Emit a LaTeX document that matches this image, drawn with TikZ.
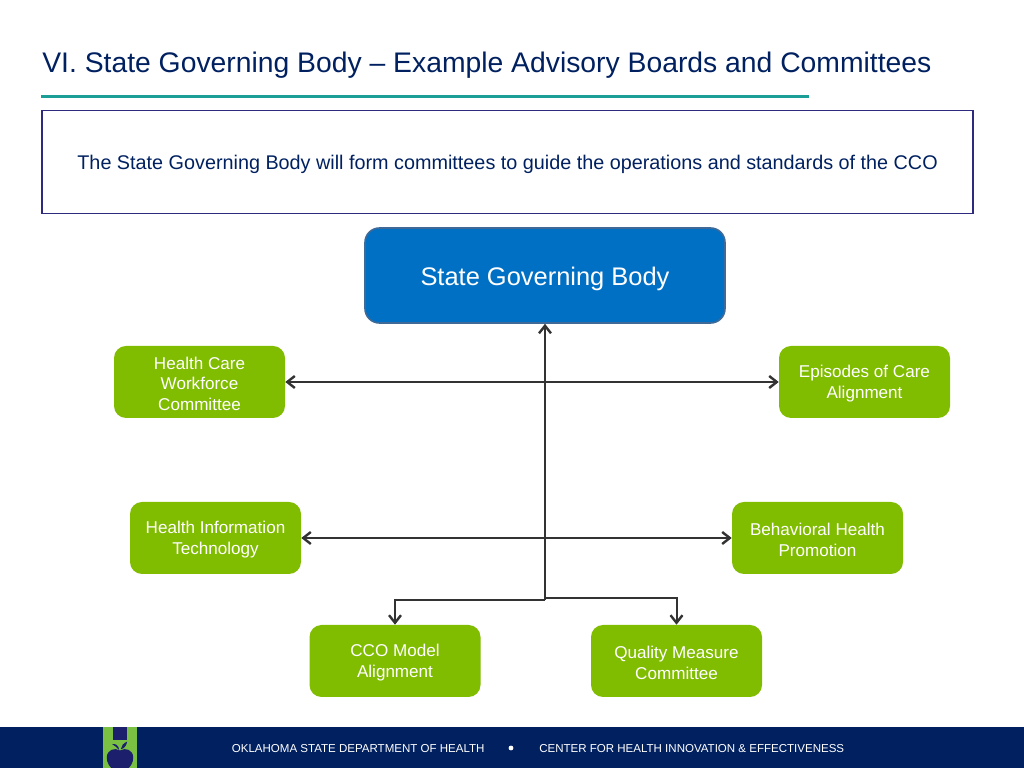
\documentclass[tikz,border=0pt]{standalone}
\usepackage{fontspec}
\setmainfont{Liberation Sans}
\usepackage{tikz}
\usetikzlibrary{positioning,shapes,arrows.meta}

\definecolor{navytext}{HTML}{002060}
\definecolor{tealrule}{HTML}{1A9E96}
\definecolor{boxline}{HTML}{2E2A7E}
\definecolor{govblue}{HTML}{0070C4}
\definecolor{govline}{HTML}{3F6A98}
\definecolor{cmtgreen}{HTML}{80BC00}
\definecolor{logogreen}{HTML}{7AC143}
\definecolor{logonavy}{HTML}{1C1F6B}
\definecolor{linkgray}{HTML}{333333}

\tikzset{
  govbox/.style={draw=govline, line width=0.04cm, fill=govblue, rounded corners=0.36cm,
    minimum width=9cm, minimum height=2.375cm, text=white,
    font=\fontsize{18.1}{21}\selectfont, execute at begin node={\rule{0pt}{18pt}}},
  cmtbox/.style={fill=cmtgreen, rounded corners=0.3cm, minimum width=4.275cm,
    minimum height=1.8cm, text=white, align=center, inner sep=0pt,
    font=\fontsize{12.15}{14.7}\selectfont},
  link/.style={draw=linkgray, line width=0.05cm, >={Straight Barb[length=0.19cm,width=0.3cm,line width=0.06cm]}},
  foot/.style={text=white, inner sep=0pt, font=\fontsize{8.2}{10}\selectfont}
}

\begin{document}
\begin{tikzpicture}
\useasboundingbox (0,0) rectangle (25.6,19.2);

% ── HEADER ──────────────────────────────────────────────────

\node[anchor=west, inner sep=0pt, text=navytext, font=\fontsize{20.14}{25}\selectfont] (title) at (1.05, 17.56)
  {VI. State Governing Body -- Example Advisory Boards and Committees};
\draw[tealrule, line width=0.075cm] (1.03, 16.775) -- (20.225, 16.775);

% Intro box
\node[draw=boxline, line width=0.04cm, minimum width=23.275cm, minimum height=2.575cm, text=navytext,
  font=\fontsize{14.08}{17}\selectfont, execute at begin node={\rule{0pt}{13pt}}] (intro) at (12.69, 15.15)
  {The State Governing Body will form committees to guide the operations and standards of the CCO};

% ── BOXES ───────────────────────────────────────────────────

\node[govbox] (gov) at (13.625, 12.3125) {State Governing Body};

% Committees: name/x/y/label  (the rule pushes the text down a little)
\foreach \nm/\xpos/\ypos/\lbl in {
    hcw/4.9875/9.65/{Health Care\\Workforce\\Committee},
    eoc/21.6125/9.65/{Episodes of Care\\Alignment},
    hit/5.3875/5.75/{Health Information\\Technology},
    bhp/20.4375/5.75/{Behavioral Health\\Promotion},
    cco/9.875/2.675/{CCO Model\\Alignment},
    qmc/16.9125/2.675/{Quality Measure\\Committee}} {
    \node[cmtbox] (\nm) at (\xpos, \ypos) {\rule{0pt}{11.2pt}\lbl};
}

% ── CONNECTORS ──────────────────────────────────────────────

\coordinate (forkL) at (13.625, 4.2);
\coordinate (forkR) at (13.625, 4.25);

\draw[link, ->, line width=0.06cm] (forkL) -- (gov.south);
\draw[link, <->] (hcw.east) -- (eoc.west);
\draw[link, <->] (hit.east) -- (bhp.west);
\draw[link, ->] (forkL) -| (cco.north);
\draw[link, ->] (forkR) -| (qmc.north);

% ── FOOTER ──────────────────────────────────────────────────

\fill[navytext] (0,0) rectangle (25.6,1.025);
\fill[logogreen] (2.575,0) rectangle (3.425,1.025);
\fill[logonavy] (2.83,0.7) rectangle (3.17,1.025);

% Apple, cut off by the page edge
\begin{scope}
\clip (2.575,0) rectangle (3.425,1.025);
\fill[logonavy] (3.0,0.44)
  .. controls (2.85,0.52) and (2.68,0.45) .. (2.67,0.27)
  .. controls (2.66,0.15) and (2.74,0.02) .. (2.82,-0.03)
  -- (3.18,-0.03)
  .. controls (3.26,0.02) and (3.34,0.15) .. (3.33,0.27)
  .. controls (3.32,0.45) and (3.15,0.52) .. (3.0,0.44) -- cycle;
\fill[logonavy] (2.98,0.45) .. controls (2.92,0.52) and (2.86,0.56) .. (2.8,0.6)
  .. controls (2.9,0.62) and (2.97,0.55) .. (2.98,0.45) -- cycle;
\fill[logonavy] (3.02,0.47) .. controls (3.03,0.55) and (3.08,0.62) .. (3.18,0.66)
  .. controls (3.16,0.55) and (3.1,0.48) .. (3.02,0.47) -- cycle;
\end{scope}

\node[foot, anchor=west] (ftleft) at (5.79, 0.48) {OKLAHOMA STATE DEPARTMENT OF HEALTH};
\fill[white] (12.775, 0.5) circle (0.06);
\node[foot, anchor=west] (ftright) at (13.475, 0.48) {CENTER FOR HEALTH INNOVATION \& EFFECTIVENESS};

\end{tikzpicture}
\end{document}
